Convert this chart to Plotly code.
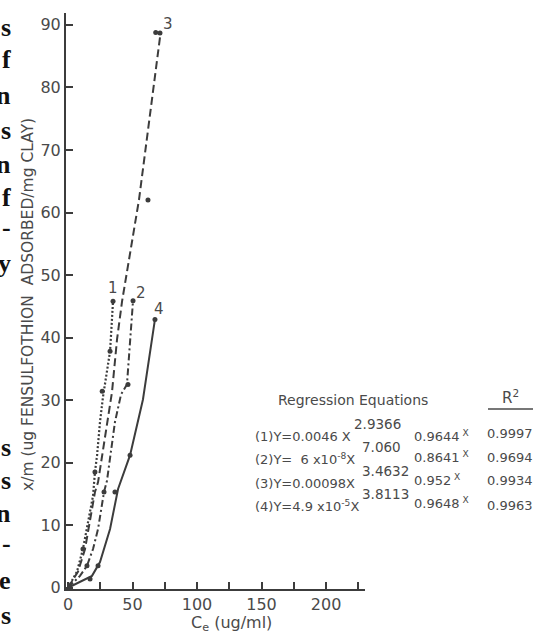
import plotly.graph_objects as go

# ---------------- data ----------------
# curve vertices (Ce ug/ml, x/m ug/mg)
s1_x = [0, 7.0, 11.6, 15.5, 19.4, 20.9, 22.5, 24.8, 27.1, 32.6, 34.9]
s1_y = [0, 2.6, 6.2, 10.5, 14.7, 18.5, 21.1, 26.5, 30.5, 37.8, 45.8]
s1_px = [34.9, 32.6, 26.5, 20.9, 11.6]
s1_py = [45.8, 37.8, 31.4, 18.5, 6.2]

s2_x = [0, 9.3, 14.7, 19.4, 23.3, 27.9, 30.2, 32.6, 36.4, 41.1, 45.7, 50.4]
s2_y = [0, 1.9, 3.5, 6.2, 9.4, 15.3, 17.1, 21.1, 26.5, 30.9, 32.5, 45.9]
s2_px = [50.4, 46.5, 27.9, 14.7]
s2_py = [45.9, 32.5, 15.3, 3.5]

s3_x = [0, 7.8, 13.2, 17.1, 20.9, 23.3, 26.4, 30.2, 34.1, 38.0, 41.9, 55.0, 71.3]
s3_y = [0, 2.6, 6.2, 10.5, 15.3, 16.9, 21.1, 26.5, 31.3, 39.7, 45.8, 62.0, 88.0]
s3_px = [68.0, 71.3, 62.0]
s3_py = [88.8, 88.7, 62.0]

s4_x = [0, 9.3, 18.6, 24.8, 32.6, 38.8, 48.1, 58.1, 67.4]
s4_y = [0, 1.0, 1.9, 4.1, 9.4, 15.8, 21.2, 30.1, 42.9]
s4_px = [67.4, 48.1, 36.4, 23.3, 17.1]
s4_py = [42.9, 21.2, 15.3, 3.5, 1.4]

series_labels = ["1", "2", "3", "4"]
label_pos = [(34.5, 48.0), (56.5, 47.2), (77.5, 90.2), (70.5, 44.6)]

x_ticks = [0, 50, 100, 150, 200]
y_ticks = [0, 10, 20, 30, 40, 50, 60, 70, 80, 90]

eq_main = ["(1)Y=0.0046 X", "(2)Y=  6 x10<sup>-8</sup>X",
           "(3)Y=0.00098X", "(4)Y=4.9 x10<sup>-5</sup>X"]
eq_exp = ["2.9366", "7.060", "3.4632", "3.8113"]
eq_base = ["0.9644", "0.8641", "0.952", "0.9648"]
r2_values = ["0.9997", "0.9694", "0.9934", "0.9963"]

edge_top = ["s", "f", "n", "s", "n", "f", "-", "y"]
edge_bottom = ["s", "s", "n", "-", "e", "s"]

# ---------------- figure ----------------
W, H = 540, 635
ML, MR, MT, MB = 66, 175, 13, 46
XR = [-1.55, 230.2]
YR = [-0.2, 91.9]

def px_x(px):
    return (px - ML) / (W - ML - MR)

def px_y(py):
    return (H - MB - py) / (H - MT - MB)

INK = "#3c3c3c"
TXT = "#4a4a4a"
FONT = "DejaVu Sans"

fig = go.Figure()
styles = [
    dict(dash="2px,2px", width=2.2),
    dict(dash="7px,3px,2px,3px", width=2),
    dict(dash="8px,4px", width=2),
    dict(dash="solid", width=2),
]
curves = [(s1_x, s1_y, s1_px, s1_py), (s2_x, s2_y, s2_px, s2_py),
          (s3_x, s3_y, s3_px, s3_py), (s4_x, s4_y, s4_px, s4_py)]
for (cx, cy, mx, my), st in zip(curves, styles):
    fig.add_trace(go.Scatter(x=cx, y=cy, mode="lines",
                             line=dict(color=INK, width=st["width"], dash=st["dash"]),
                             showlegend=False, hoverinfo="skip"))
    fig.add_trace(go.Scatter(x=mx, y=my, mode="markers",
                             marker=dict(color=INK, size=5),
                             showlegend=False, hoverinfo="skip"))

ann = []

def add_px(text, px, py, size, anchor="center", color=TXT, family=FONT, angle=0):
    ann.append(dict(x=px_x(px), y=px_y(py), xref="paper", yref="paper",
                    xanchor=anchor, yanchor="middle", text=text, showarrow=False,
                    textangle=angle, font=dict(family=family, size=size, color=color)))

for lab, (lx, ly) in zip(series_labels, label_pos):
    ann.append(dict(x=lx, y=ly, xref="x", yref="y", xanchor="center", yanchor="middle",
                    text=lab, showarrow=False,
                    font=dict(family=FONT, size=15, color=TXT)))

# axis titles
add_px("x/m (ug FENSULFOTHION  ADSORBED/mg CLAY)", 28, 305, 15.5, angle=-90)
add_px("C<sub>e</sub> (ug/ml)", 231, 623, 16)

# regression block
add_px("Regression Equations", 276, 400, 14, anchor="left")
add_px("R<sup>2</sup>", 511, 397, 15)
main_y = [436, 459, 483, 506]
exp_x = [352, 360, 360, 360]
base_y = [436, 457, 480, 503]
r2_y = [433, 457, 480, 505]
for i in range(4):
    add_px(eq_main[i], 253, main_y[i], 13, anchor="left")
    add_px(eq_exp[i], exp_x[i], main_y[i] - 12, 13.5, anchor="left")
    add_px(eq_base[i] + "<sup> X</sup>", 412, base_y[i], 13, anchor="left")
    add_px(r2_values[i], 510, r2_y[i], 13)

# clipped page text at the left edge
top_y = [27, 60, 95, 130, 165, 197, 227, 263]
bot_y = [447, 480, 513, 543, 580, 615]
for ch, yy in list(zip(edge_top, top_y)) + list(zip(edge_bottom, bot_y)):
    add_px("<b>%s</b>" % ch, 13, yy, 26, anchor="right", color="#111",
           family="Liberation Serif")

fig.update_layout(
    width=W, height=H,
    margin=dict(l=ML, r=MR, t=MT, b=MB, pad=0),
    paper_bgcolor="white", plot_bgcolor="white",
    annotations=ann,
    shapes=[dict(type="line", xref="paper", yref="paper",
                 x0=px_x(488), x1=px_x(533), y0=px_y(409), y1=px_y(409),
                 line=dict(color=TXT, width=1.5))],
)
fig.update_xaxes(range=XR, tickvals=x_ticks, ticks="inside",
                 ticklen=7, tickwidth=1.5, tickcolor=INK, showline=True, linecolor=INK,
                 linewidth=2, showgrid=False, zeroline=False,
                 minor=dict(tick0=0, dtick=25, ticks="inside", ticklen=7, tickwidth=1.5,
                            tickcolor=INK, showgrid=False),
                 tickfont=dict(family=FONT, size=16, color=TXT))
fig.update_yaxes(range=YR, tickvals=y_ticks, ticks="inside", ticklen=7, tickwidth=1.5,
                 tickcolor=INK, showline=True, linecolor=INK, linewidth=2,
                 showgrid=False, zeroline=False,
                 tickfont=dict(family=FONT, size=16, color=TXT))

fig.write_html("out.html")
